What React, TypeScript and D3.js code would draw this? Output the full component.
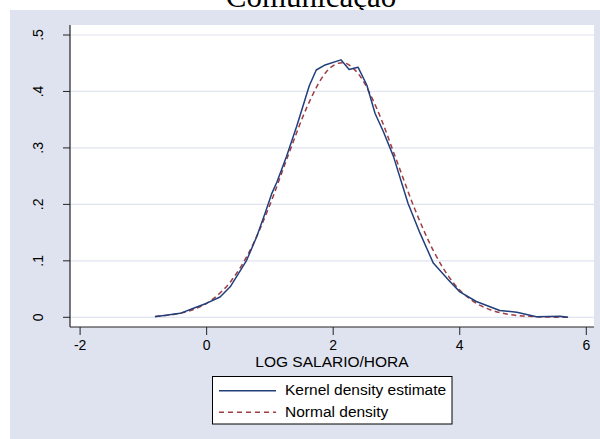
import React, { useEffect, useRef } from "react";
import * as d3 from "d3";

// Kernel density estimate of log hourly wage
const KDE_X = [-0.81, -0.41, -0.2, 0.01, 0.22, 0.38, 0.64, 0.8, 0.93, 1.04, 1.12, 1.27, 1.43, 1.63, 1.74, 1.88, 2.13, 2.26, 2.4, 2.54, 2.67, 2.8, 2.96, 3.19, 3.38, 3.59, 3.83, 4.01, 4.27, 4.64, 4.91, 5.22, 5.59, 5.72];
const KDE_Y = [0.001, 0.007, 0.016, 0.025, 0.036, 0.054, 0.101, 0.143, 0.184, 0.22, 0.24, 0.285, 0.338, 0.41, 0.438, 0.447, 0.456, 0.439, 0.443, 0.411, 0.361, 0.329, 0.285, 0.202, 0.149, 0.096, 0.066, 0.045, 0.028, 0.012, 0.009, 0.001, 0.002, 0.0];

// Normal density with the same mean and variance
const NORM_X = [-0.8, -0.5, -0.2, 0.1, 0.4, 0.7, 1.0, 1.3, 1.6, 1.9, 2.15, 2.4, 2.7, 3.0, 3.3, 3.6, 3.9, 4.2, 4.5, 4.8, 5.1, 5.4, 5.75];
const NORM_Y = [0.0018, 0.0053, 0.0137, 0.0317, 0.0653, 0.12, 0.197, 0.288, 0.374, 0.435, 0.451, 0.432, 0.369, 0.281, 0.191, 0.116, 0.062, 0.03, 0.0129, 0.0049, 0.0017, 0.0005, 0.0001];

const X_TICKS = [-2, 0, 2, 4, 6];
const X_TICK_LABELS = ["-2", "0", "2", "4", "6"];
const Y_TICKS = [0, 0.1, 0.2, 0.3, 0.4, 0.5];
const Y_TICK_LABELS = ["0", ".1", ".2", ".3", ".4", ".5"];

const TITLE = "Comunicação";
const X_TITLE = "LOG SALARIO/HORA";
const LEGEND_LABELS = ["Kernel density estimate", "Normal density"];

const W = 600;
const H = 439;
const NAVY = "#223f7c";
const MAROON = "#a03c42";
const BG = "#dfe3ef";
const GRID = "#e0e4ef";
const SANS = "'Liberation Sans', Arial, sans-serif";

const plot = { left: 70, right: 594, top: 25, bottom: 327 };
const x = d3.scaleLinear().domain([-2, 6]).range([79.6, 585.8]);
const y = d3.scaleLinear().domain([0, 0.5]).range([317.3, 35]);

export default function App() {
  const xAxisRef = useRef<SVGGElement>(null);

  useEffect(() => {
    if (!xAxisRef.current) return;
    const g = d3.select(xAxisRef.current);
    g.selectAll("*").remove();
    g.call(
      d3
        .axisBottom(x)
        .tickValues(X_TICKS)
        .tickFormat((_, i) => X_TICK_LABELS[i])
        .tickSize(8)
        .tickPadding(5)
        .tickSizeOuter(0)
    );
    g.select(".domain").remove();
    g.selectAll(".tick line").attr("stroke", "#222").attr("stroke-width", 1);
    g.selectAll(".tick text")
      .attr("fill", "#000")
      .attr("font-family", SANS)
      .attr("font-size", 14);
  }, []);

  const kde = KDE_X.map((v, i) => [v, KDE_Y[i]] as [number, number]);
  const norm = NORM_X.map((v, i) => [v, NORM_Y[i]] as [number, number]);

  const kdeLine = d3
    .line<[number, number]>()
    .x((d) => x(d[0]))
    .y((d) => y(d[1]))
    .curve(d3.curveLinear);
  const normLine = d3
    .line<[number, number]>()
    .x((d) => x(d[0]))
    .y((d) => y(d[1]))
    .curve(d3.curveMonotoneX);

  const legend = { x: 212.5, y: 376.5, w: 239.5, h: 47.5 };

  return (
    <div style={{ position: "absolute", left: 0, top: 0 }}>
      <svg width={W} height={H} style={{ display: "block" }}>
        <rect x={0} y={0} width={W} height={H} fill="#ffffff" />
        <text
          x={311}
          y={7}
          textAnchor="middle"
          fontFamily="'Liberation Serif', 'Times New Roman', serif"
          fontSize={31}
          fill="#000"
        >
          {TITLE}
        </text>
        <rect x={10} y={10} width={W - 10} height={H - 10} fill={BG} />
        <rect
          x={plot.left}
          y={plot.top}
          width={plot.right - plot.left}
          height={plot.bottom - plot.top}
          fill="#ffffff"
        />
        {Y_TICKS.map((t) => (
          <line
            key={"grid-" + t}
            x1={plot.left}
            x2={plot.right}
            y1={y(t)}
            y2={y(t)}
            stroke={GRID}
            strokeWidth={1.2}
          />
        ))}

        <path d={normLine(norm) || ""} fill="none" stroke={MAROON} strokeWidth={1.5} strokeDasharray="5,3.5" />
        <path d={kdeLine(kde) || ""} fill="none" stroke={NAVY} strokeWidth={1.5} strokeLinejoin="round" />

        {/* y axis */}
        <line x1={plot.left} x2={plot.left} y1={plot.top} y2={plot.bottom} stroke="#222" strokeWidth={1.2} />
        {Y_TICKS.map((t, i) => (
          <g key={"ytick-" + i}>
            <line x1={plot.left - 7} x2={plot.left} y1={y(t)} y2={y(t)} stroke="#222" strokeWidth={1} />
            <text
              transform={`translate(42.5,${y(t)}) rotate(-90)`}
              textAnchor="middle"
              fontFamily={SANS}
              fontSize={14}
              fill="#000"
            >
              {Y_TICK_LABELS[i]}
            </text>
          </g>
        ))}

        {/* x axis */}
        <line x1={plot.left} x2={plot.right} y1={plot.bottom} y2={plot.bottom} stroke="#222" strokeWidth={1.2} />
        <g ref={xAxisRef} transform={`translate(0,${plot.bottom})`} />
        <text x={332} y={366.8} textAnchor="middle" fontFamily={SANS} fontSize={15.5} fill="#000">
          {X_TITLE}
        </text>

        {/* legend */}
        <rect x={legend.x} y={legend.y} width={legend.w} height={legend.h} fill="#ffffff" stroke="#000" strokeWidth={1} />
        <line x1={219} x2={276} y1={390.7} y2={390.7} stroke={NAVY} strokeWidth={1.5} />
        <text x={285} y={395} fontFamily={SANS} fontSize={15.5} fill="#000">
          {LEGEND_LABELS[0]}
        </text>
        <line x1={219} x2={276} y1={412.3} y2={412.3} stroke={MAROON} strokeWidth={1.5} strokeDasharray="5,4" />
        <text x={285} y={416.7} fontFamily={SANS} fontSize={15.5} fill="#000">
          {LEGEND_LABELS[1]}
        </text>
      </svg>
    </div>
  );
}
